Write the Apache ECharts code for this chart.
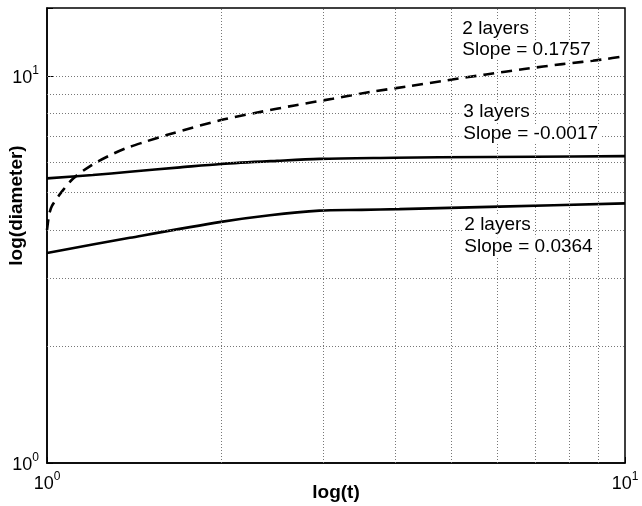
<!DOCTYPE html>
<html>
<head>
<meta charset="utf-8">
<script src="https://cdn.jsdelivr.net/npm/echarts@6/dist/echarts.min.js"></script>
<style>
html,body{margin:0;padding:0;background:#fff;}
#c{width:642px;height:506px;}
</style>
</head>
<body>
<div id="c"></div>
<script>
// Dashed curve: 2 layers, slope 0.1757
var dashT = [1.0, 1.004, 1.009, 1.02, 1.06, 1.11, 1.195, 1.276, 1.369, 1.476, 1.61, 2.0, 2.30, 2.68, 3.12, 3.64, 4.24, 4.93, 5.75, 6.69, 7.79, 9.14, 10];
var dashD = [4.0, 4.2, 4.40, 4.62, 5.02, 5.44, 5.89, 6.21, 6.51, 6.76, 7.04, 7.70, 8.04, 8.40, 8.74, 9.11, 9.42, 9.76, 10.1, 10.43, 10.74, 11.04, 11.27];
// Upper solid: 3 layers, slope -0.0017
var upT = [1.0, 1.2, 1.391, 1.7, 2.0, 2.5, 2.96, 4.0, 4.77, 7.0, 10];
var upD = [5.44, 5.55, 5.66, 5.81, 5.93, 6.04, 6.11, 6.15, 6.17, 6.19, 6.21];
// Lower solid: 2 layers, slope 0.0364
var loT = [1.0, 1.391, 2.0, 2.43, 2.96, 3.5, 4.07, 6.06, 10];
var loD = [3.49, 3.82, 4.20, 4.37, 4.49, 4.51, 4.53, 4.60, 4.69];
// grid lines
var xGrid = [2, 3, 4, 5, 6, 7, 8, 9];
var yGrid = [2, 3, 4, 5, 6, 7, 8, 9, 10];
var labels = [
  {text: '2 layers', t: 5.19, d: 13.22},
  {text: 'Slope = 0.1757', t: 5.19, d: 11.67},
  {text: '3 layers', t: 5.21, d: 8.07},
  {text: 'Slope = -0.0017', t: 5.21, d: 7.08},
  {text: '2 layers', t: 5.23, d: 4.12},
  {text: 'Slope = 0.0364', t: 5.23, d: 3.62}
];

function zip(a, b) { return a.map(function (v, i) { return [v, b[i]]; }); }

var chart = echarts.init(document.getElementById('c'), null, {renderer: 'canvas'});
var FONT = 'Liberation Sans, Arial, sans-serif';
function sup(v) {
  if (Math.abs(v - 1) < 1e-9) return '{b|10}{s|0}';
  if (Math.abs(v - 10) < 1e-9) return '{b|10}{s|1}';
  return '';
}
var rich = {
  b: {fontSize: 18, fontFamily: FONT, color: '#000', verticalAlign: 'bottom', lineHeight: 22},
  s: {fontSize: 12, fontFamily: FONT, color: '#000', verticalAlign: 'bottom', padding: [0, 0, 10, 0]}
};
var gridLine = {color: '#777', width: 1, type: [1, 2]};

var option = {
  backgroundColor: '#fff',
  animation: false,
  grid: {left: 47, right: 17, top: 8, bottom: 43, containLabel: false, outerBoundsMode: 'none',
    show: true, borderColor: '#000', borderWidth: 1.5, backgroundColor: 'transparent'},
  xAxis: {
    type: 'log', logBase: 10, min: 1, max: 10,
    name: 'log(t)', nameLocation: 'middle', nameGap: 20, nameMoveOverlap: false,
    nameTextStyle: {fontSize: 19, fontWeight: 'bold', fontFamily: FONT, color: '#000'},
    axisLine: {show: true, lineStyle: {color: '#000', width: 1.5}},
    axisTick: {show: true, inside: true, length: 6, lineStyle: {color: '#000'}},
    splitLine: {show: false},
    axisLabel: {formatter: sup, rich: rich, margin: 8, showMaxLabel: true, showMinLabel: true}
  },
  yAxis: {
    type: 'log', logBase: 10, min: 1, max: 15,
    name: 'log(diameter)', nameLocation: 'middle', nameGap: 21, nameMoveOverlap: false,
    nameTextStyle: {fontSize: 19, fontWeight: 'bold', fontFamily: FONT, color: '#000', padding: [0, 0, 0, 60]},
    axisLine: {show: true, lineStyle: {color: '#000', width: 1.5}},
    axisTick: {show: true, inside: true, length: 6, lineStyle: {color: '#000'}},
    splitLine: {show: false},
    axisLabel: {formatter: sup, rich: rich, margin: 8}
  },
  series: [
    {
      type: 'line', data: [], z: 1, silent: true,
      markLine: {
        silent: true, symbol: ['none', 'none'], label: {show: false},
        lineStyle: gridLine,
        data: xGrid.map(function (v) { return {xAxis: v}; }).concat(yGrid.map(function (v) { return {yAxis: v}; }))
      }
    },
    {
      type: 'line', data: zip(dashT, dashD), showSymbol: false, smooth: 0.3, z: 3,
      lineStyle: {color: '#000', width: 2.6, type: [11, 7]}
    },
    {
      type: 'line', data: zip(upT, upD), showSymbol: false, smooth: 0.3, z: 3,
      lineStyle: {color: '#000', width: 2.6}
    },
    {
      type: 'line', data: zip(loT, loD), showSymbol: false, smooth: 0.3, z: 3,
      lineStyle: {color: '#000', width: 2.6}
    },
    {
      type: 'scatter', data: labels.map(function (l) { return {value: [l.t, l.d], name: l.text}; }),
      symbolSize: 0, z: 5, silent: true,
      itemStyle: {opacity: 1},
      label: {
        show: true, position: 'right', distance: 0,
        formatter: function (p) { return p.name; },
        fontSize: 19, fontFamily: FONT, color: '#000', opacity: 1,
        backgroundColor: '#fff', padding: [0, 2, 0, 2]
      }
    }
  ]
};
chart.setOption(option);
</script>
</body>
</html>
